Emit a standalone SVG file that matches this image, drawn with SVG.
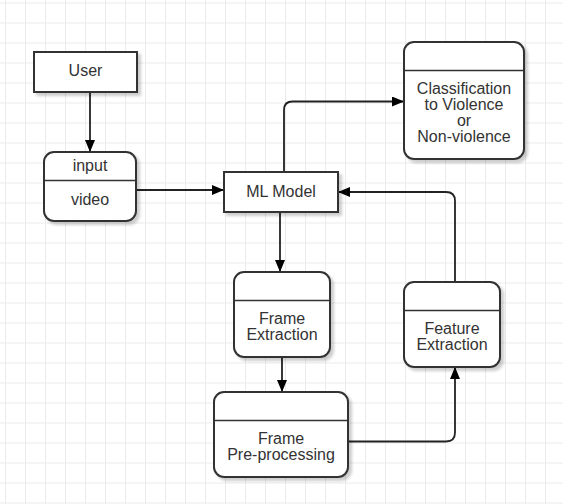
<svg xmlns="http://www.w3.org/2000/svg" width="563" height="504" viewBox="0 0 563 504">
<defs>
<pattern id="grid" x="5" y="2.5" width="20" height="20" patternUnits="userSpaceOnUse">
<path d="M0 0.5H20M0.5 0V20" fill="none" stroke="#ebebeb" stroke-width="1"/>
</pattern>
<filter id="sh" x="-10%" y="-10%" width="130%" height="130%">
<feGaussianBlur in="SourceAlpha" stdDeviation="1.5"/>
<feOffset dx="3" dy="3" result="b"/>
<feComponentTransfer><feFuncA type="linear" slope="0.2"/></feComponentTransfer>
<feMerge><feMergeNode/><feMergeNode in="SourceGraphic"/></feMerge>
</filter>
<marker id="arr" viewBox="0 0 12 10" refX="12" refY="5" markerWidth="12" markerHeight="10" markerUnits="userSpaceOnUse" orient="auto">
<path d="M0 0L12 5L0 10Z" fill="#000"/>
</marker>
</defs>
<style>
.box{fill:#fff;stroke:#333;stroke-width:2;filter:url(#sh)}
.div{stroke:#333;stroke-width:1.5}
.t{font-family:"Liberation Sans",Arial,sans-serif;font-size:16px;fill:#333;text-anchor:middle}
.c{fill:none;stroke:#222;stroke-width:1.8;marker-end:url(#arr)}
</style>
<rect width="563" height="504" fill="#fff"/>
<rect width="563" height="504" fill="url(#grid)"/>

<g id="connectors">
<path class="c" d="M90 92V152"/>
<path class="c" d="M136 190H224"/>
<path class="c" d="M284 172V110Q284 101.5 292.5 101.5H404"/>
<path class="c" d="M455 282V201Q455 192 446 192H338"/>
<path class="c" d="M280 212V272"/>
<path class="c" d="M282 357V392"/>
<path class="c" d="M348 441.5H446Q455 441.5 455 432.5V367"/>
</g>

<g id="user">
<rect class="box" x="34" y="52" width="103" height="40"/>
<text class="t" x="85.5" y="76">User</text>
</g>

<g id="input-video">
<rect class="box" x="44" y="152" width="92" height="69" rx="10"/>
<line class="div" x1="44" y1="180.5" x2="136" y2="180.5"/>
<text class="t" x="90" y="170.5">input</text>
<text class="t" x="90" y="204.5">video</text>
</g>

<g id="ml-model">
<rect class="box" x="224" y="172" width="114" height="40"/>
<text class="t" x="281" y="197">ML Model</text>
</g>

<g id="classification">
<rect class="box" x="404" y="42" width="120" height="117" rx="10"/>
<line class="div" x1="404" y1="70.5" x2="524" y2="70.5"/>
<text class="t" x="464" y="94">Classification</text>
<text class="t" x="464" y="110">to Violence</text>
<text class="t" x="464" y="126">or</text>
<text class="t" x="464" y="142">Non-violence</text>
</g>

<g id="frame-extraction">
<rect class="box" x="234" y="272" width="96" height="85" rx="10"/>
<line class="div" x1="234" y1="300.5" x2="330" y2="300.5"/>
<text class="t" x="282" y="324">Frame</text>
<text class="t" x="282" y="340">Extraction</text>
</g>

<g id="frame-preprocessing">
<rect class="box" x="214" y="392" width="134" height="85" rx="10"/>
<line class="div" x1="214" y1="420.5" x2="348" y2="420.5"/>
<text class="t" x="281" y="444">Frame</text>
<text class="t" x="281" y="460">Pre-processing</text>
</g>

<g id="feature-extraction">
<rect class="box" x="404" y="282" width="96" height="85" rx="10"/>
<line class="div" x1="404" y1="310.5" x2="500" y2="310.5"/>
<text class="t" x="452" y="334">Feature</text>
<text class="t" x="452" y="350">Extraction</text>
</g>
</svg>
